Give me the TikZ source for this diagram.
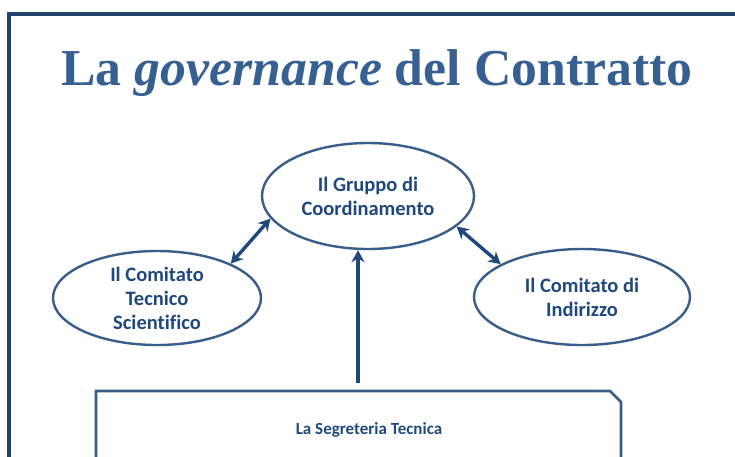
\documentclass[tikz,border=0pt]{standalone}
\usepackage{fontspec}
\setmainfont{Carlito}[Ligatures=NoCommon]
\newfontfamily\titlefont{Liberation Serif}
\usetikzlibrary{shapes.geometric,arrows.meta}
\definecolor{framecol}{RGB}{36,64,110}
\definecolor{titlecol}{RGB}{55,96,146}
\definecolor{linecol}{RGB}{56,93,138}
\definecolor{textcol}{RGB}{31,73,125}
\tikzset{
  bubble/.style={ellipse,draw=linecol,line width=2.4pt,inner sep=0pt,text=textcol,
    font=\fontsize{20.5}{24}\selectfont\bfseries,align=center},
  link/.style={draw=textcol,line width=3.4pt},
  tip/.style={-{Stealth[length=12pt,width=13pt]}},
  twotips/.style={{Stealth[length=12pt,width=13pt]}-{Stealth[length=12pt,width=13pt]}}
}

\begin{document}
\begin{tikzpicture}[x=1pt,y=-1pt]
        \useasboundingbox (0,0) rectangle (735,456);
        % cornice
        \draw[framecol,line width=3.2pt] (9,460) -- (9,14) -- (735,14);
        \node[anchor=base,text=titlecol,inner sep=0pt] (titolo) at (377,85)
            {\resizebox{631pt}{!}{\titlefont\bfseries La \textit{governance} del Contratto}};
        % organi
        \node[bubble,minimum width=212pt,minimum height=106pt] (gruppo) at (368,196) {Il Gruppo di\\Coordinamento};
        \node[bubble,minimum width=208pt,minimum height=94pt] (tecnico) at (157,298) {Il Comitato\\Tecnico\\Scientifico};
        \node[bubble,minimum width=216pt,minimum height=96pt] (indirizzo) at (582,297) {Il Comitato di\\Indirizzo};
        % segreteria
        \draw[linecol,line width=2.6pt] (96,460) -- (96,391) -- (610,391) -- (621,402) -- (621,460);
        \node[text=textcol,font=\fontsize{17}{20}\selectfont\bfseries] (segreteria) at (369,430) {La Segreteria Tecnica};
        \coordinate (segtop) at (358,383);
        % collegamenti
        \draw[link,twotips] (gruppo.193) -- (tecnico.25);
        \draw[link,twotips] (gruppo.341) -- (indirizzo.158);
        \draw[link,tip] (segtop) -- (segtop |- gruppo.south);
    \end{tikzpicture}
\end{document}
